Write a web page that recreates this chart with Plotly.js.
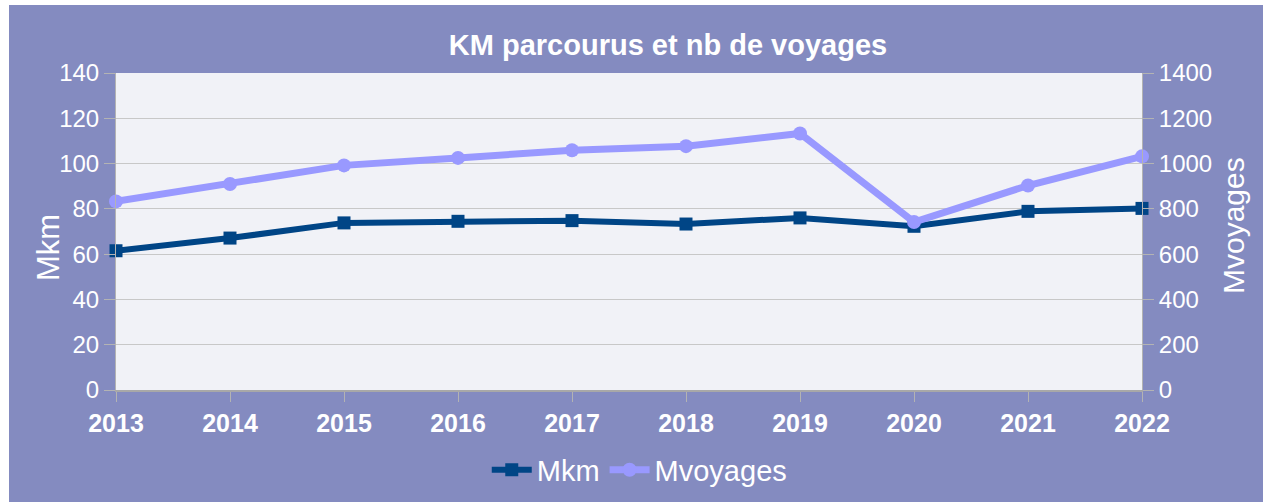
<!DOCTYPE html>
<html>
<head>
<meta charset="utf-8">
<script src="https://cdn.plot.ly/plotly-3.0.1.min.js"></script>
<style>html,body{margin:0;padding:0;background:#fff;}#chart{width:1263px;height:502px;}</style>
</head>
<body>
<div id="chart"></div>
<script>
const years = [2013, 2014, 2015, 2016, 2017, 2018, 2019, 2020, 2021, 2022];
const mkm = [61.5, 67.1, 73.8, 74.5, 74.8, 73.3, 76.0, 72.3, 78.9, 80.2];
const mvoyages = [833, 910, 992, 1025, 1059, 1077, 1133, 742, 903, 1032];
const leftTicks = [0, 20, 40, 60, 80, 100, 120, 140];
const rightTicks = [0, 200, 400, 600, 800, 1000, 1200, 1400];

const FONT = "Liberation Sans, Arial, sans-serif";
const panel = "#848bc0";

const traces = [
  {
    x: years, y: mkm, name: "Mkm", type: "scatter", mode: "lines+markers",
    line: {color: "#004586", width: 6},
    marker: {symbol: "square", size: 13, color: "#004586"},
    cliponaxis: false, yaxis: "y"
  },
  {
    x: years, y: mvoyages, name: "Mvoyages", type: "scatter", mode: "lines+markers",
    line: {color: "#9999ff", width: 7},
    marker: {symbol: "circle", size: 14, color: "#9999ff"},
    cliponaxis: false, yaxis: "y2"
  }
];

const layout = {
  width: 1263, height: 502,
  margin: {l: 116, r: 121, t: 73, b: 112, pad: 0, autoexpand: false},
  paper_bgcolor: panel,
  plot_bgcolor: "#f1f2f7",
  font: {family: FONT, color: "#ffffff", size: 24},
  showlegend: true,
  title: {
    text: "KM parcourus et nb de voyages",
    font: {family: FONT, size: 29, color: "#ffffff", weight: "bold"},
    x: 0.538, xref: "paper", xanchor: "center",
    y: 0.91, yref: "container", yanchor: "middle"
  },
  xaxis: {
    type: "linear", range: [2013, 2022], tickvals: years, ticktext: years.map(String),
    showgrid: false, zeroline: false,
    showline: true, linecolor: "#a8a8a8", linewidth: 2,
    ticks: "outside", ticklen: 10, tickcolor: "#b3b3b3", tickwidth: 1,
    tickfont: {family: FONT, size: 25, color: "#ffffff", weight: "bold"}
  },
  yaxis: {
    range: [0, 140], tickvals: leftTicks, ticktext: leftTicks.map(String),
    showgrid: true, gridcolor: "#c8c8c8", gridwidth: 1, zeroline: false,
    showline: true, linecolor: "#b3b3b3", linewidth: 1,
    ticks: "outside", ticklen: 11, tickcolor: "#b3b3b3",
    tickfont: {family: FONT, size: 24, color: "#ffffff"}
  },
  yaxis2: {
    range: [0, 1400], tickvals: rightTicks, ticktext: rightTicks.map(String),
    overlaying: "y", side: "right", showgrid: false, zeroline: false,
    showline: true, linecolor: "#b3b3b3", linewidth: 1,
    ticks: "outside", ticklen: 11, tickcolor: "#b3b3b3",
    tickfont: {family: FONT, size: 24, color: "#ffffff"}
  },
  annotations: [
    {text: "Mkm", textangle: -90, xref: "paper", yref: "paper",
     x: (48 - 116) / 1026, y: (390 - 248) / 317, xanchor: "center", yanchor: "middle",
     showarrow: false, font: {family: FONT, size: 31, color: "#ffffff"}},
    {text: "Mvoyages", textangle: -90, xref: "paper", yref: "paper",
     x: (1233 - 116) / 1026, y: (390 - 226) / 317, xanchor: "center", yanchor: "middle",
     showarrow: false, font: {family: FONT, size: 30, color: "#ffffff"}}
  ],
  legend: {
    orientation: "h", x: 0.51, xanchor: "center", y: -0.252, yanchor: "middle",
    font: {family: FONT, size: 29, color: "#ffffff"},
    bgcolor: "rgba(0,0,0,0)", itemwidth: 40
  },
  shapes: [
    {type: "rect", xref: "paper", yref: "paper", x0: -0.2, x1: (9 - 116) / 1026, y0: -0.5, y1: 1.5,
     fillcolor: "#ffffff", line: {width: 0}},
    {type: "rect", xref: "paper", yref: "paper", x0: -0.2, x1: 1.3, y0: (390 - 5) / 317, y1: 1.5,
     fillcolor: "#ffffff", line: {width: 0}}
  ]
};

Plotly.newPlot("chart", traces, layout, {displayModeBar: false, staticPlot: true});
</script>
</body>
</html>
